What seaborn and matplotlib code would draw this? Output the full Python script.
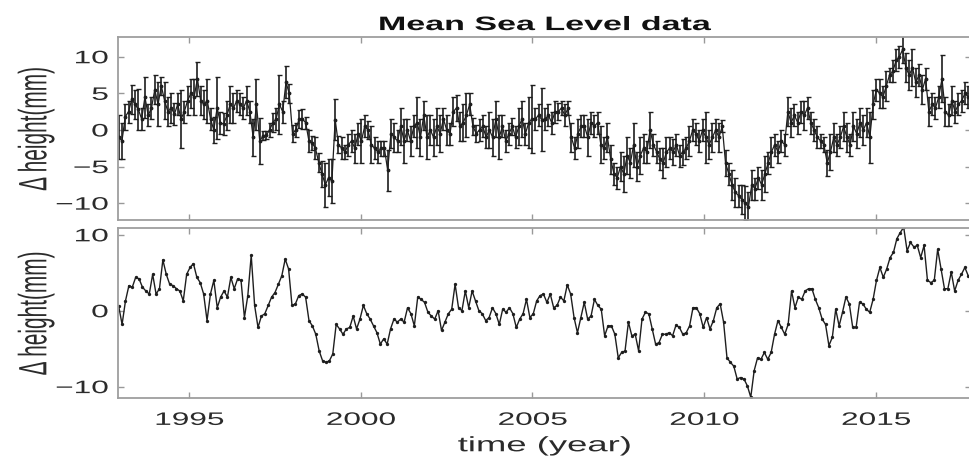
import numpy as np
import matplotlib
matplotlib.use("Agg")
import matplotlib.pyplot as plt
import seaborn as sns
from matplotlib.patheffects import AbstractPathEffect
from matplotlib.transforms import Affine2D

# ---- data (mm, roughly every ~0.1 yr) ----
T_START, T_END = 1992.95, 2017.69

# top panel: raw altimetry samples and their 1-sigma half widths
msl_raw = [
    -1.0, -1.5, 1.8, 2.5, 4.2, 3.5, 2.8, 1.5, 4.5, 2.0, 3.0,
    5.5, 3.5, 6.0, 4.0, 2.5, 3.0, 2.2, 3.5, 1.5, 2.5, 4.0,
    5.0, 4.5, 7.0, 4.0, 3.5, 4.0, 1.5, 0.0, 3.0, 1.0, 0.8,
    2.0, 3.5, 3.0, 4.0, 3.5, 3.0, 4.0, 2.5, -1.0, 3.5, -1.5,
    -0.8, -0.7, 0.0, 1.0, 1.5, 3.5, 2.5, 6.5, 5.0, -0.5, 0.0,
    1.5, 1.5, 1.0, -1.5, -1.8, -2.5, -4.5, -6.0, -7.5, -6.5,
    -7.0, 1.4, -2.0, -2.5, -3.0, -2.0, -1.5, -2.5, -0.5, -1.5, 0.5,
    0.0, -2.0, -2.5, -3.0, -2.5, -2.5, -5.5, -0.5, -1.0, -1.5,
    0.5, -1.5, 0.0, -1.5, 0.5, 1.0, -1.0, 2.0, -1.0, 0.0,
    -1.0, 0.5, -0.5, 1.5, 0.0, -0.5, 2.5, 3.0, 0.5, 1.0,
    2.0, 3.5, 0.5, -0.5, 0.0, 0.5, -1.0, 0.0, -1.0, 1.5,
    -1.0, 0.5, -1.5, -0.5, 0.5, -1.0, 0.5, 1.5, -0.5, 1.0,
    1.5, 1.5, 2.0, 1.4, 1.5, 2.0, 1.0, 2.5, 2.5, 3.0, 2.0,
    3.0, -1.0, -2.5, -0.5, 0.5, 0.5, -1.0, 1.0, 0.5, 1.0,
    -2.0, -2.5, -1.0, -4.0, -6.0, -6.5, -5.0, -6.0, -3.5, -4.5,
    -2.0, -5.0, -3.5, -2.5, -3.0, 0.0, -2.0, -3.0, -4.0, -4.5,
    -3.0, -2.5, -3.0, -2.0, -3.5, -3.0, -2.5, -1.5, 0.0, -0.5, -1.5,
    0.0, -1.0, -2.0, -1.0, 0.0, -1.0, 0.5, -4.5, -6.0, -7.5, -8.5,
    -9.0, -9.5, -10.0, -10.5, -7.5, -8.0, -6.5, -7.5, -6.0, -4.5,
    -3.0, -2.0, -3.0, -1.5, -2.0, 2.5, 1.0, 2.0, 1.0, 2.5, 2.0,
    3.0, 1.0, 0.0, -1.0, -1.5, -2.0, -4.5, -3.0, -1.0, -2.0,
    -1.0, 0.5, -1.0, -2.0, 0.5, -0.5, 1.0, 0.0, 1.0, -1.0,
    3.5, 5.5, 5.0, 4.5, 6.0, 7.5, 8.0, 9.5, 10.0, 11.0, 8.5,
    7.5, 8.5, 6.5, 7.5, 5.5, 7.0, 2.5, 3.5, 3.0, 4.5, 7.0,
    2.5, 2.0, 4.0, 2.5, 3.5, 4.0, 5.0, 4.5,
]
err_raw = [
    3.0, 2.5, 1.8, 1.5, 2.0, 2.0, 2.8, 1.5, 2.8, 1.5, 1.5,
    2.0, 3.0, 1.2, 2.5, 2.0, 2.0, 1.5, 1.5, 4.0, 1.5, 2.0,
    2.0, 2.5, 2.3, 2.0, 2.0, 3.0, 1.5, 1.8, 4.2, 1.5, 1.5,
    2.0, 2.5, 2.0, 1.5, 1.5, 1.5, 2.0, 1.5, 2.5, 3.5, 3.2,
    0.6, 0.6, 1.0, 1.3, 1.5, 4.0, 1.5, 2.2, 1.3, 1.2, 1.0,
    1.2, 1.3, 0.8, 1.5, 1.0, 1.5, 1.3, 1.8, 3.0, 2.5,
    3.0, 2.8, 1.2, 1.5, 1.0, 1.5, 1.5, 2.0, 1.5, 3.0, 1.5,
    1.2, 2.5, 1.5, 1.5, 1.0, 1.0, 2.8, 2.0, 2.0, 1.5,
    2.5, 3.0, 1.5, 2.0, 1.5, 3.5, 2.5, 2.0, 3.0, 2.0,
    2.5, 2.5, 2.5, 1.5, 2.0, 1.5, 2.0, 1.8, 2.0, 2.5,
    3.0, 1.5, 1.2, 1.2, 1.5, 1.5, 1.5, 2.5, 2.5, 2.5,
    3.0, 1.5, 1.5, 1.5, 1.2, 1.5, 2.5, 2.5, 1.5, 3.5,
    4.7, 1.5, 1.5, 4.3, 1.5, 1.5, 1.5, 1.5, 1.2, 1.0, 1.5,
    1.0, 2.0, 1.5, 2.0, 1.5, 1.5, 2.5, 1.5, 1.5, 1.5,
    2.5, 1.5, 2.0, 2.0, 1.5, 1.5, 2.0, 2.5, 2.5, 2.0,
    3.0, 2.0, 2.5, 2.0, 1.5, 2.5, 1.5, 1.5, 1.5, 2.0,
    2.0, 1.5, 1.8, 1.5, 1.5, 1.8, 1.5, 2.0, 1.5, 1.5, 1.5,
    1.5, 3.5, 2.0, 2.0, 1.5, 2.0, 0.8, 1.8, 1.5, 2.0, 2.0,
    1.5, 2.0, 2.3, 2.0, 2.0, 1.5, 1.5, 2.0, 2.5, 1.5,
    2.0, 1.5, 1.5, 1.5, 1.5, 2.0, 2.0, 1.5, 1.5, 1.5, 2.0,
    1.5, 1.5, 1.5, 1.5, 1.0, 1.0, 1.8, 2.5, 2.0, 1.5,
    1.5, 2.0, 2.0, 1.5, 2.0, 2.0, 2.0, 2.0, 2.0, 3.5,
    2.0, 1.5, 2.0, 1.5, 2.0, 1.0, 1.5, 1.5, 1.5, 1.8, 2.0,
    2.0, 2.5, 2.0, 1.5, 2.0, 1.5, 2.0, 1.5, 1.5, 1.5, 3.2,
    2.0, 1.5, 2.0, 1.5, 1.5, 1.5, 1.5, 1.5,
]

# bottom panel: the cleaned series
msl_clean = [
    0.6, -1.8, 1.3, 3.3, 3.1, 4.4, 4.2, 3.1, 2.6, 2.2,
    4.8, 2.2, 2.9, 6.7, 4.8, 3.5, 3.3, 2.9, 2.6, 1.3,
    4.8, 5.7, 6.2, 4.4, 3.7, 2.2, -1.3, 2.2, 4.0, 0.4,
    1.8, 2.6, 1.8, 4.4, 2.9, 4.2, 4.0, -0.9, 2.0, 7.3,
    0.7, -2.2, -0.7, -0.4, 0.7, 1.8, 2.4, 3.5, 4.6, 6.8,
    5.5, 0.7, 0.9, 2.0, 2.2, 1.8, -1.3, -2.0, -3.1, -5.3,
    -6.6, -6.8, -6.6, -5.7,
    -1.8, -2.4, -3.1, -2.4, -2.2, -0.7, -2.4, -1.1, 0.7, -0.4,
    -1.1, -2.0, -2.9, -4.4, -3.7, -4.4, -2.4, -1.1, -1.5, -1.1,
    -1.5, 0.4, -0.4, -2.0, 1.8, 1.5, 1.1, -0.2, -0.7, -1.1,
    0.0, -2.6, -1.5, -0.4, 0.2, 3.5, 0.4, 0.0, 2.6, 0.4,
    2.6, 1.3, 0.0, -0.4, -1.3, -0.9, 0.4, -0.4, -1.8, 0.2,
    -0.2, 0.4, -0.4, -2.2, -1.1, -0.4, 1.5, -0.9, -0.4, 1.3,
    2.0, 2.2, 1.1, 2.2, 0.4, 0.7, 1.8, 1.3, 3.4, 2.2,
    -0.9, -2.9, -0.9, 1.1, -1.1, -0.7, 1.5, 0.7, 0.2, -3.3,
    -2.0, -2.0, -3.1, -6.2, -5.5, -5.3, -1.5, -3.3, -3.1, -5.3,
    -1.1, -0.2,
    -0.4, -2.4, -4.4, -4.2, -3.1, -3.1, -2.9, -3.3, -1.9, -2.2,
    -3.1, -2.9, -2.0, 0.4, 0.4, -0.4, -2.2, -0.9, -2.4, -1.3,
    0.4, 0.9, -1.5, -6.2, -6.8, -7.3, -9.0, -8.8, -9.0, -9.9,
    -11.4, -7.9, -6.2, -6.4, -5.5, -6.4, -5.5, -3.1, -1.3, -2.2,
    -3.1, -1.8, 2.6, 0.4, 1.8, 1.5, 2.6, 2.9, 2.9, 1.5,
    0.4, -1.1, -1.8, -4.6, -3.5, 0.2, -2.0, -0.2, 1.8, 0.9,
    -2.2, -2.2, 1.1, 0.9, 0.2, -0.2, 1.5, 4.0, 5.7, 4.4,
    5.5, 7.0, 7.7, 9.5, 10.3, 11.0, 7.9, 9.0, 8.4, 8.6,
    7.0, 8.6, 4.0, 3.7, 4.0, 8.1, 5.5, 2.9, 2.9, 5.1,
    2.6, 4.0, 4.8, 5.7, 4.6,
]

year_ticks = [1995, 2000, 2005, 2010, 2015]
top_yticks = [-10, -5, 0, 5, 10]
bot_yticks = [-10, 0, 10]

t_raw = np.linspace(T_START, T_END, len(msl_raw))
t_clean = np.linspace(T_START, T_END, len(msl_clean))


class Stretch(AbstractPathEffect):
    """The original image was stretched sideways; widen the glyphs to match."""

    def __init__(self, sx=1.75, anchor="center"):
        super().__init__()
        self.sx = sx
        self.anchor = anchor

    def draw_path(self, renderer, gc, tpath, affine, rgbFace=None):
        xs = affine.transform(tpath.vertices)[:, 0]
        if len(xs) == 0:
            return
        if self.anchor == "right":
            x0 = xs.max()
        else:
            x0 = (xs.min() + xs.max()) / 2
        st = Affine2D().translate(-x0, 0).scale(self.sx, 1).translate(x0, 0)
        renderer.draw_path(gc, tpath, affine + st, rgbFace)


sns.set_theme(style="ticks")
plt.rcParams["font.family"] = ["Liberation Sans", "DejaVu Sans"]

W, H = 969, 458
fig = plt.figure(figsize=(W / 100, H / 100), dpi=100)
ax1 = fig.add_axes([118 / W, (H - 220) / H, 853 / W, 183 / H])
ax2 = fig.add_axes([118 / W, (H - 398) / H, 853 / W, 170 / H])

line_col = "#1e1e1e"
ax1.errorbar(t_raw, msl_raw, yerr=err_raw, fmt="-", marker=".", ms=3.5,
             color=line_col, lw=0.9, elinewidth=1.2, capsize=1.8, capthick=1.0)
sns.lineplot(x=t_clean, y=msl_clean, ax=ax2, color=line_col, lw=1.0,
             marker="o", markersize=2.4, markeredgewidth=0)

ax1.set_ylim(-12.3, 12.7)
ax2.set_ylim(-11.5, 10.9)
text_col = "#2b2b2b"
for ax, yt in [(ax1, top_yticks), (ax2, bot_yticks)]:
    ax.set_xlim(1992.93, 2017.77)
    ax.set_xticks(year_ticks)
    ax.set_yticks(yt)
    ax.tick_params(direction="in", length=4, width=1, color="0.6",
                   top=True, right=True, labelsize=13, labelcolor=text_col, pad=7)
    for sp in ax.spines.values():
        sp.set_color("0.62")
        sp.set_linewidth(1.3)
    ax.set_ylabel("\u0394 height(mm)", fontsize=15, color=text_col)
    ax.yaxis.set_label_coords(-0.085, 0.5)
    ax.yaxis.label.set_path_effects([Stretch(1.9)])
    for lab in ax.get_yticklabels():
        lab.set_path_effects([Stretch(anchor="right")])
    for lab in ax.get_xticklabels():
        lab.set_path_effects([Stretch()])

ax1.tick_params(labelbottom=False)
ax2.tick_params(axis="x", pad=10)
ax1.set_title("Mean Sea Level data", fontsize=14, fontweight="bold",
              color="#111111", pad=5, path_effects=[Stretch()])
ax2.set_xlabel("time (year)", fontsize=15, color=text_col)
ax2.xaxis.set_label_coords(0.5, -0.225)
ax2.xaxis.label.set_path_effects([Stretch()])

fig.savefig("out.png", dpi=100)
